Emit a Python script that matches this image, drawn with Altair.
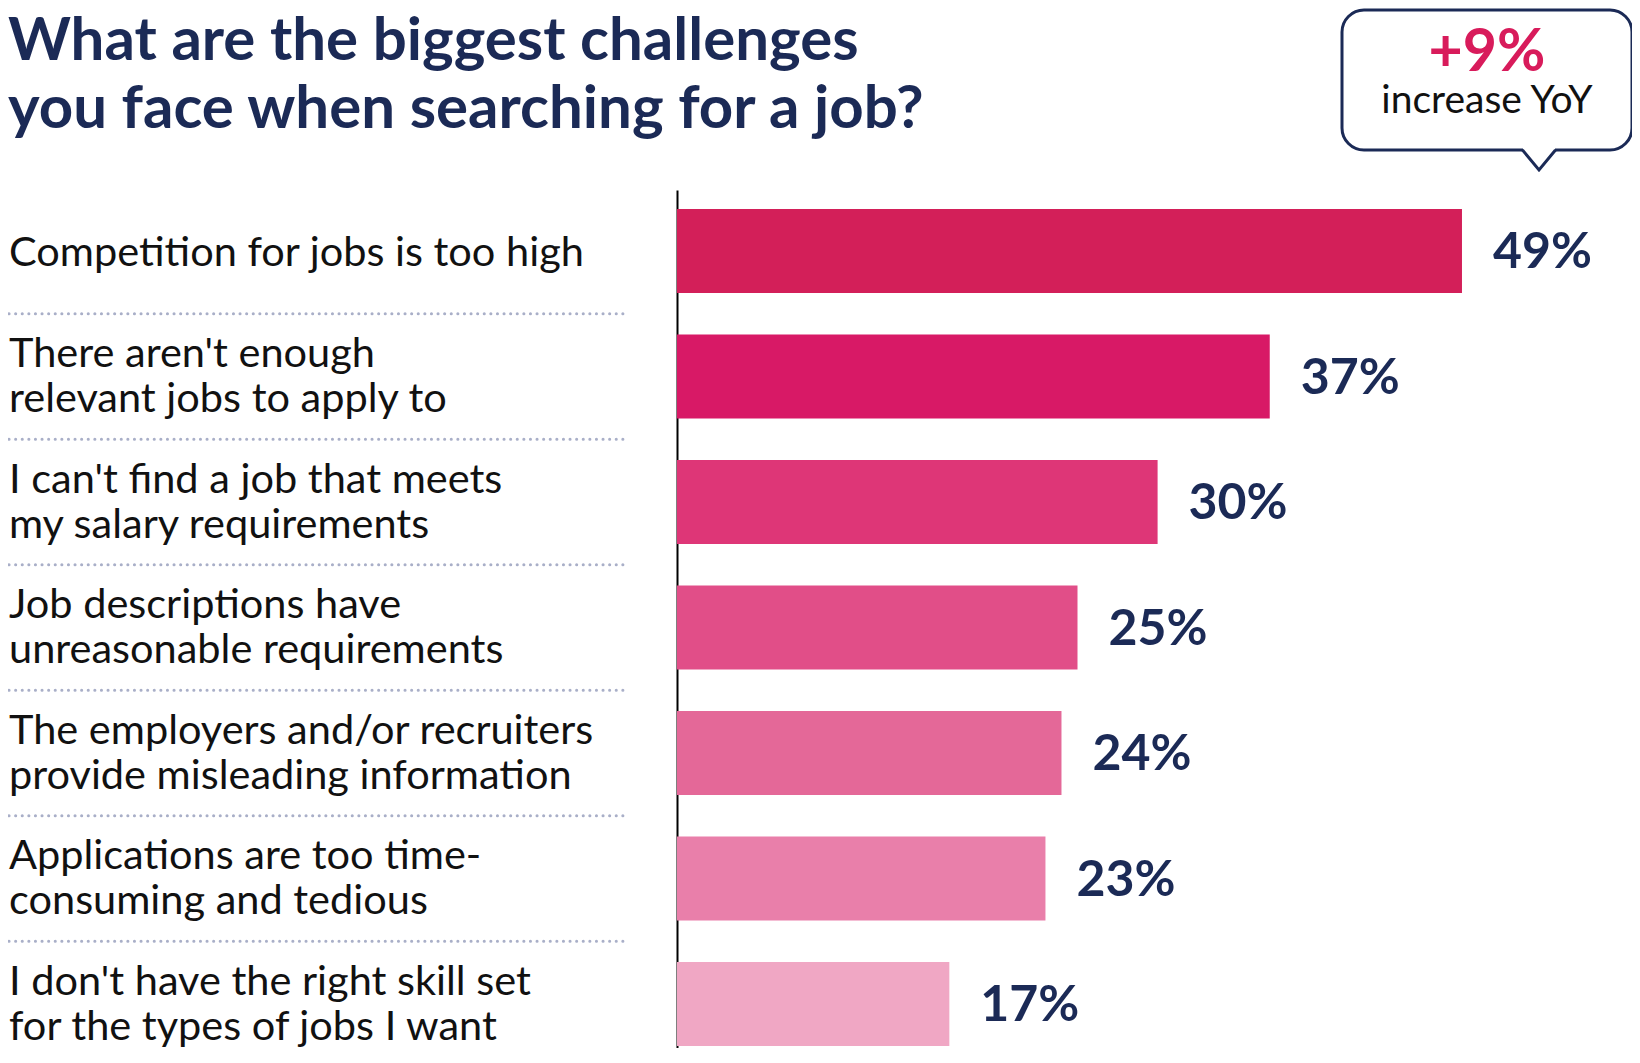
import altair as alt
import pandas as pd

# ---- data ----
title_text = "What are the biggest challenges\nyou face when searching for a job?"
categories = [
    "Competition for jobs is too high",
    "There aren't enough\nrelevant jobs to apply to",
    "I can't find a job that meets\nmy salary requirements",
    "Job descriptions have\nunreasonable requirements",
    "The employers and/or recruiters\nprovide misleading information",
    "Applications are too time-\nconsuming and tedious",
    "I don't have the right skill set\nfor the types of jobs I want",
]
values = [49, 37, 30, 25, 24, 23, 17]
bar_colors = ["#D31F59", "#D81966", "#DE3677", "#E14E88", "#E46898", "#E97FAA", "#F0A7C4"]
callout_value = "+9%"
callout_text = "increase YoY"

NAVY = "#1B2A56"
FONT = "Lato"
LINE_H = 45

df = pd.DataFrame({
    "cat": categories,
    "value": values,
    "label": [f"{v}%" for v in values],
    "idx": list(range(len(categories))),
    "nlines": [c.count("\n") + 1 for c in categories],
})

yscale = alt.Scale(domain=categories, paddingInner=0.3307, paddingOuter=0.0837, align=0.905)
y_enc = alt.Y("cat:N", sort=categories, scale=yscale,
              axis=alt.Axis(labels=False, ticks=False, domain=True, domainColor="#000000",
                            domainWidth=2, title=None, grid=False))
x_enc = alt.X("value:Q", scale=alt.Scale(domain=[0, 50]), axis=None)

base = alt.Chart(df)

bars = base.mark_bar().encode(
    y=y_enc,
    x=x_enc,
    color=alt.Color("cat:N", scale=alt.Scale(domain=categories, range=bar_colors), legend=None),
)

value_labels = base.mark_text(
    align="left", baseline="middle", dx=31, dy=2, font=FONT, fontWeight="bold", fontSize=50,
    color=NAVY
).encode(y=alt.Y("cat:N", sort=categories), x="value:Q", text="label:N")

label_style = dict(align="left", baseline="middle", lineBreak="\n", lineHeight=LINE_H,
                   font=FONT, fontSize=41.5, color="#111111")
cat_labels_1 = base.transform_filter(alt.datum.nlines == 1).mark_text(dy=3, **label_style).encode(
    y=alt.Y("cat:N", sort=categories), x=alt.value(-668), text="cat:N")
cat_labels_2 = base.transform_filter(alt.datum.nlines == 2).mark_text(
    dy=1 - LINE_H / 2, **label_style).encode(
    y=alt.Y("cat:N", sort=categories), x=alt.value(-668), text="cat:N")

separators = base.transform_filter(alt.datum.idx < len(categories) - 1).mark_rule(
    color="#A9AFC8", strokeWidth=3, strokeDash=[0.1, 6.5], strokeCap="round"
).encode(
    y=alt.Y("cat:N", sort=categories, bandPosition=0),
    yOffset=alt.value(104.75),
    x=alt.value(-668), x2=alt.value(-53),
)

one = pd.DataFrame({"t": [title_text], "v": [callout_value], "c": [callout_text]})
oc = alt.Chart(one)

title = oc.mark_text(
    align="left", baseline="alphabetic", lineBreak="\n", lineHeight=68,
    font=FONT, fontWeight="bold", fontSize=60, color=NAVY
).encode(x=alt.value(-669), y=alt.value(-130), text="t:N")

box = oc.mark_rect(cornerRadius=22, fill="white", stroke=NAVY, strokeWidth=3).encode(
    x=alt.value(665), x2=alt.value(955), y=alt.value(-180), y2=alt.value(-40)
)
cover = oc.mark_rule(color="white", strokeWidth=5).encode(
    x=alt.value(846), x2=alt.value(878), y=alt.value(-40)
)
tail = oc.mark_point(
    shape="M -1 0 L 0 1.21 L 1 0", size=1089, filled=False, color=NAVY, strokeWidth=3,
    opacity=1, strokeJoin="miter"
).encode(x=alt.value(862), y=alt.value(-40))

call_val = oc.mark_text(
    align="center", baseline="alphabetic", font=FONT, fontWeight="bold", fontSize=59, color="#D81B5B"
).encode(x=alt.value(810), y=alt.value(-119), text="v:N")
call_txt = oc.mark_text(
    align="center", baseline="alphabetic", font=FONT, fontSize=39, color="#111111"
).encode(x=alt.value(810), y=alt.value(-77), text="c:N")

chart = alt.layer(
    bars, value_labels, cat_labels_1, cat_labels_2, separators, title, box, cover, tail,
    call_val, call_txt
).properties(
    width=801, height=858,
    padding={"left": 669, "top": 182, "right": 154, "bottom": 0},
    autosize=alt.AutoSizeParams(type="none"),
).configure_view(stroke=None)

chart.save("out.html", embed_options={"renderer": "svg", "actions": False})
